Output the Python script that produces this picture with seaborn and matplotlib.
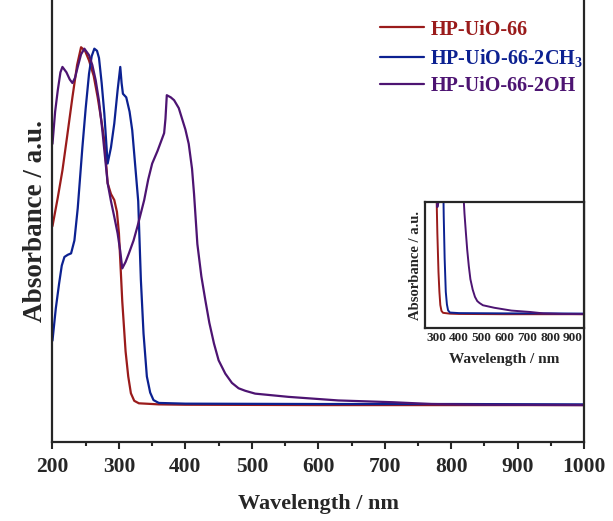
import numpy as np
import pandas as pd
import seaborn as sns
import matplotlib
matplotlib.use('Agg')
import matplotlib.pyplot as plt
from matplotlib.ticker import MultipleLocator

# spectra (wavelength in nm, absorbance normalised)
wl_uio = [200, 208, 215, 222, 230, 237, 243, 249, 255, 262, 268, 274, 278, 283, 288, 293, 297, 300, 305, 310, 314, 318, 323, 330, 360, 400, 600, 800, 1000]
abs_uio = [0.50, 0.58, 0.656, 0.75, 0.86, 0.95, 1.0, 0.99, 0.963, 0.92, 0.86, 0.79, 0.74, 0.62, 0.59, 0.573, 0.54, 0.48, 0.29, 0.15, 0.08, 0.033, 0.012, 0.005, 0.002, 0.001, 0.0, 0.0, 0.0]

wl_ch3 = [200, 205, 210, 214, 218, 223, 228, 233, 238, 245, 250, 255, 259, 263, 267, 270, 274, 278, 283, 288, 293, 298, 302, 304, 306, 311, 316, 320, 324, 329, 333, 337, 342, 347, 352, 360, 400, 600, 800, 1000]
abs_ch3 = [0.18, 0.27, 0.34, 0.39, 0.414, 0.42, 0.424, 0.46, 0.55, 0.72, 0.83, 0.926, 0.975, 0.996, 0.99, 0.97, 0.90, 0.815, 0.675, 0.72, 0.787, 0.88, 0.945, 0.90, 0.87, 0.86, 0.82, 0.768, 0.68, 0.57, 0.35, 0.20, 0.08, 0.035, 0.014, 0.006, 0.004, 0.003, 0.003, 0.002]

wl_oh = [200, 204, 208, 212, 215, 221, 226, 230, 234, 238, 243, 248, 255, 260, 265, 270, 275, 283, 288, 293, 298, 302, 305, 310, 315, 322, 328, 338, 344, 350, 358, 365, 368, 370, 372, 378, 383, 390, 395, 400, 405, 410, 413, 418, 424, 430, 436, 443, 450, 460, 470, 480, 490, 505, 555, 630, 712, 770, 850, 1000]
abs_oh = [0.73, 0.82, 0.88, 0.93, 0.945, 0.93, 0.91, 0.90, 0.915, 0.945, 0.98, 0.996, 0.978, 0.95, 0.908, 0.85, 0.768, 0.62, 0.57, 0.526, 0.48, 0.43, 0.382, 0.40, 0.424, 0.46, 0.50, 0.573, 0.63, 0.675, 0.71, 0.745, 0.76, 0.80, 0.866, 0.86, 0.852, 0.83, 0.80, 0.77, 0.73, 0.66, 0.59, 0.45, 0.36, 0.293, 0.23, 0.172, 0.125, 0.088, 0.062, 0.047, 0.04, 0.032, 0.023, 0.013, 0.008, 0.003, 0.001, 0.0]

names = ['HP-UiO-66', 'HP-UiO-66-2CH$_3$', 'HP-UiO-66-2OH']
colors = ['#9a1b1b', '#0c2191', '#4d1472']

df = pd.concat([
    pd.DataFrame({'wl': wl_uio, 'A': abs_uio, 'sample': names[0]}),
    pd.DataFrame({'wl': wl_ch3, 'A': abs_ch3, 'sample': names[1]}),
    pd.DataFrame({'wl': wl_oh, 'A': abs_oh, 'sample': names[2]}),
])

sns.set_style('ticks')
plt.rcParams['font.family'] = ['Liberation Serif', 'DejaVu Serif']
plt.rcParams['font.weight'] = 'bold'
plt.rcParams['mathtext.fontset'] = 'custom'
plt.rcParams['mathtext.rm'] = 'Liberation Serif:bold'
plt.rcParams['mathtext.it'] = 'Liberation Serif:bold'
plt.rcParams['mathtext.bf'] = 'Liberation Serif:bold'

fig = plt.figure(figsize=(6.13, 5.21), dpi=100)
ax = fig.add_axes([0.0856, 0.152, 0.8674, 0.848])

sns.lineplot(data=df, x='wl', y='A', hue='sample', palette=colors, hue_order=names,
             linewidth=1.6, ax=ax, sort=True, estimator=None)

ax.set_xlim(200, 1000)
ax.set_ylim(-0.1026, 1.132)
ax.xaxis.set_major_locator(MultipleLocator(100))
ax.xaxis.set_minor_locator(MultipleLocator(50))
ax.set_yticks([])
ax.tick_params(axis='x', which='major', direction='out', length=5, width=1.5, labelsize=15.5, pad=6)
ax.tick_params(axis='x', which='minor', direction='out', length=3, width=1.5)
for lbl in ax.get_xticklabels():
    lbl.set_fontweight('bold')
ax.spines['top'].set_visible(False)
for s in ['left', 'right', 'bottom']:
    ax.spines[s].set_linewidth(1.6)
ax.set_xlabel('Wavelength / nm', fontsize=16, fontweight='bold', labelpad=12)
ax.set_ylabel('Absorbance / a.u.', fontsize=19.5, fontweight='bold', labelpad=3)

leg = ax.legend(loc='upper left', bbox_to_anchor=(0.601, 0.974), frameon=False,
                fontsize=14.5, handlelength=2.2, handletextpad=0.3, labelspacing=0.35,
                labelcolor='linecolor', borderaxespad=0)
for t in leg.get_texts():
    t.set_fontweight('bold')

# inset
axin = fig.add_axes([0.693, 0.370, 0.2603, 0.242])
sns.lineplot(data=df, x='wl', y='A', hue='sample', palette=colors, hue_order=names,
             linewidth=1.4, ax=axin, sort=True, estimator=None, legend=False)
axin.set_xlim(250, 950)
axin.set_ylim(-0.05, 0.4)
axin.set_xticks([300, 400, 500, 600, 700, 800, 900])
axin.set_yticks([])
axin.tick_params(axis='x', length=0, labelsize=9.5, pad=3)
for lbl in axin.get_xticklabels():
    lbl.set_fontweight('bold')
for s in axin.spines.values():
    s.set_linewidth(1.6)
axin.set_xlabel('Wavelength / nm', fontsize=11, fontweight='bold', labelpad=6)
axin.set_ylabel('Absorbance / a.u.', fontsize=10.5, fontweight='bold', labelpad=2)

fig.savefig('out.png', dpi=100)
